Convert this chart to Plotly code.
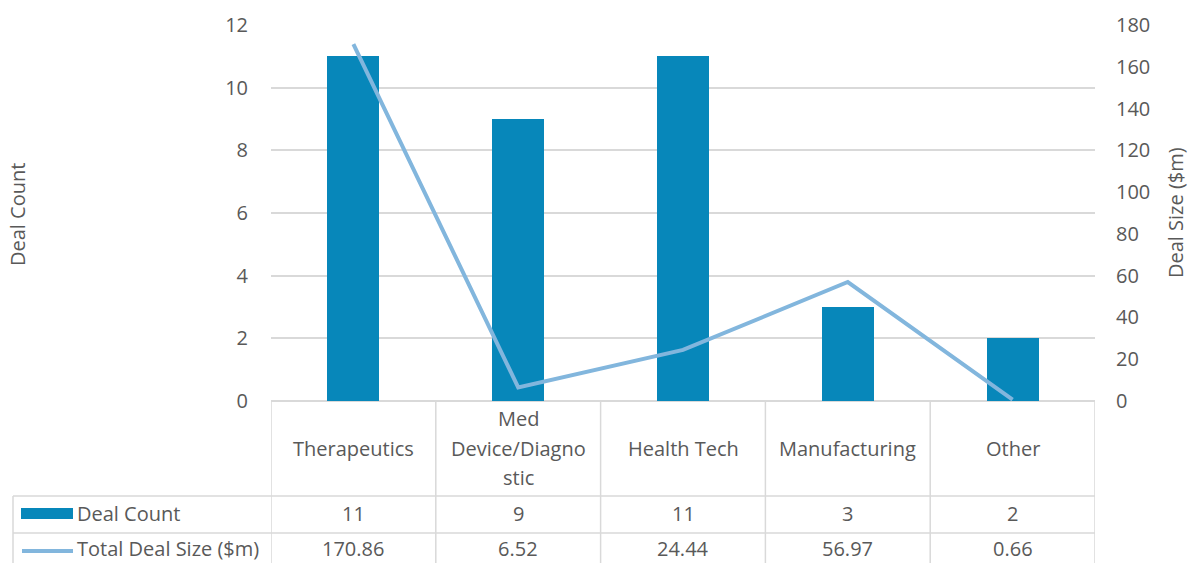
import plotly.graph_objects as go

# Deal data by sector
categories = ["Therapeutics", "Med Device/Diagnostic", "Health Tech", "Manufacturing", "Other"]
header_lines = [["Therapeutics"], ["Med", "Device/Diagno", "stic"], ["Health Tech"],
                ["Manufacturing"], ["Other"]]
deal_count = [11, 9, 11, 3, 2]
deal_size = [170.86, 6.52, 24.44, 56.97, 0.66]
deal_size_labels = ["170.86", "6.52", "24.44", "56.97", "0.66"]

W, H = 1190, 563
BAR_COLOR = "#0787BA"
LINE_COLOR = "#82B6DD"
TEXT_COLOR = "#595959"
GRID_COLOR = "#D9D9D9"
FONT = "Open Sans"

# plot area in pixels
x0_px, x1_px = 271, 1095
ytop_px, ybot_px = 25, 401


def px_x(v):
    return v / W


def px_y(v):
    return 1 - v / H


fig = go.Figure()
fig.add_trace(go.Bar(
    x=categories, y=deal_count, name="Deal Count",
    marker=dict(color=BAR_COLOR, line=dict(width=0)),
    width=0.315, yaxis="y",
))
fig.add_trace(go.Scatter(
    x=categories, y=deal_size, name="Total Deal Size ($m)",
    mode="lines", line=dict(color=LINE_COLOR, width=4), yaxis="y2",
))

shapes = []
annotations = []

# table rows (pixel y)
row_header_bot = 496
row_count_bot = 533
table_left = 13
count_row_y = 513
size_row_y = 548

# horizontal table lines
for yy in (row_header_bot, row_count_bot):
    shapes.append(dict(type="line", xref="paper", yref="paper",
                       x0=px_x(table_left), x1=px_x(x0_px), y0=px_y(yy), y1=px_y(yy),
                       line=dict(color=GRID_COLOR, width=1.5)))
    shapes.append(dict(type="line", xref="x", yref="paper",
                       x0=-0.5, x1=len(categories) - 0.5, y0=px_y(yy), y1=px_y(yy),
                       line=dict(color=GRID_COLOR, width=1.5)))

# vertical table lines at category boundaries
for i in range(len(categories) + 1):
    shapes.append(dict(type="line", xref="x", yref="paper",
                       x0=i - 0.5, x1=i - 0.5, y0=px_y(ybot_px), y1=0,
                       line=dict(color=GRID_COLOR, width=1.5)))
shapes.append(dict(type="line", xref="paper", yref="paper",
                   x0=px_x(table_left), x1=px_x(table_left), y0=px_y(row_header_bot), y1=0,
                   line=dict(color=GRID_COLOR, width=1.5)))

# legend keys inside the table
shapes.append(dict(type="rect", xref="paper", yref="paper",
                   x0=px_x(21), x1=px_x(73), y0=px_y(519), y1=px_y(508),
                   fillcolor=BAR_COLOR, line=dict(width=0)))
shapes.append(dict(type="line", xref="paper", yref="paper",
                   x0=px_x(22), x1=px_x(73), y0=px_y(551), y1=px_y(551),
                   line=dict(color=LINE_COLOR, width=4)))

font = dict(family=FONT, size=20, color=TEXT_COLOR)

annotations.append(dict(text="Deal Count", xref="paper", yref="paper",
                        x=px_x(75), y=px_y(count_row_y), xanchor="left", yanchor="middle",
                        showarrow=False, font=font))
annotations.append(dict(text="Total Deal Size ($m)", xref="paper", yref="paper",
                        x=px_x(75), y=px_y(size_row_y), xanchor="left", yanchor="middle",
                        showarrow=False, font=font))

line_gap = 29.5
for cat, lines, cnt, sz in zip(categories, header_lines, deal_count, deal_size_labels):
    mid = (len(lines) - 1) / 2
    for k, txt in enumerate(lines):
        annotations.append(dict(text=txt, xref="x", yref="paper", x=cat,
                                y=px_y(448 + (k - mid) * line_gap),
                                xanchor="center", yanchor="middle", showarrow=False,
                                font=font))
    annotations.append(dict(text=str(cnt), xref="x", yref="paper", x=cat, y=px_y(count_row_y),
                            xanchor="center", yanchor="middle", showarrow=False, font=font))
    annotations.append(dict(text=sz, xref="x", yref="paper", x=cat, y=px_y(size_row_y),
                            xanchor="center", yanchor="middle", showarrow=False, font=font))

# axis titles
annotations.append(dict(text="Deal Count", xref="paper", yref="paper",
                        x=px_x(18), y=px_y(215), xanchor="center", yanchor="middle",
                        textangle=-90, showarrow=False, font=font))
annotations.append(dict(text="Deal Size ($m)", xref="paper", yref="paper",
                        x=px_x(1175), y=px_y(213), xanchor="center", yanchor="middle",
                        textangle=-90, showarrow=False, font=font))

fig.update_layout(
    width=W, height=H,
    margin=dict(l=0, r=0, t=0, b=0, autoexpand=False),
    paper_bgcolor="white", plot_bgcolor="white",
    showlegend=False,
    bargap=0,
    xaxis=dict(domain=[px_x(x0_px), px_x(x1_px)], showticklabels=False,
               showgrid=False, zeroline=False, showline=False, ticks="",
               range=[-0.5, len(categories) - 0.5]),
    yaxis=dict(domain=[px_y(ybot_px), px_y(ytop_px)], range=[0, 12], dtick=2,
               showgrid=True, gridcolor=GRID_COLOR, gridwidth=1.5,
               zeroline=True, zerolinecolor=GRID_COLOR, zerolinewidth=1.5,
               showline=False, ticks="", ticklabelstandoff=22,
               tickfont=font, automargin=False),
    yaxis2=dict(overlaying="y", side="right", range=[0, 180], dtick=20,
                showgrid=False, zeroline=False, showline=False, ticks="",
                ticklabelstandoff=20, tickfont=font, automargin=False),
    shapes=shapes,
    annotations=annotations,
)

fig.write_html("out.html")
